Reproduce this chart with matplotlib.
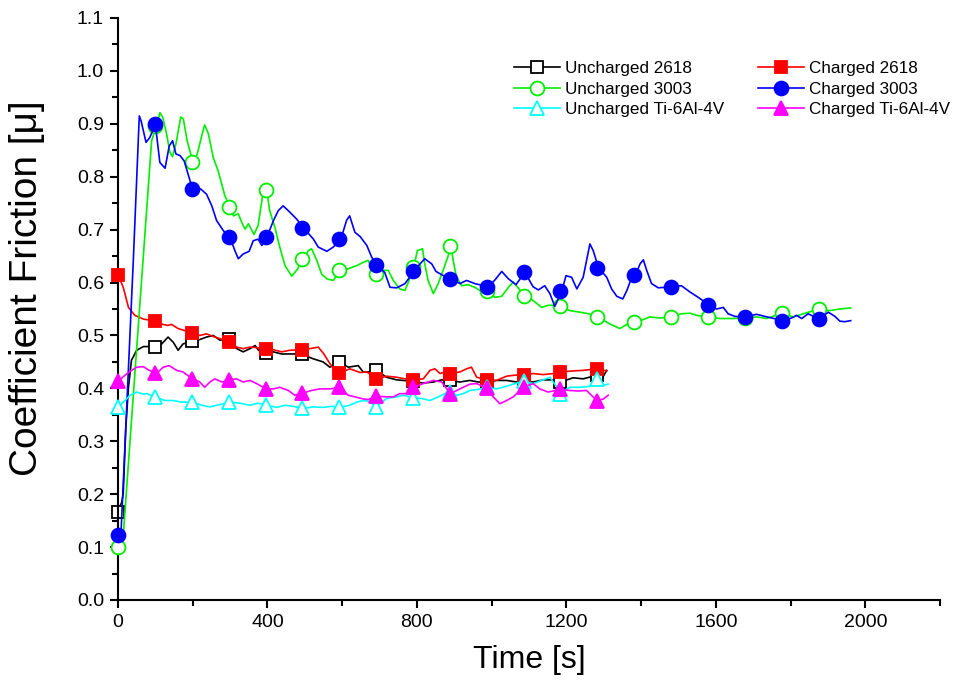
import matplotlib
matplotlib.use("Agg")
import matplotlib.pyplot as plt
from matplotlib.lines import Line2D
from matplotlib.ticker import MultipleLocator

plt.rcParams["font.family"] = ["Liberation Sans", "DejaVu Sans"]

# ---- traces (time [s], coefficient of friction) ----
un2618_t = [0, 10, 14, 21, 28, 36, 50, 68, 99, 117, 134, 148, 161, 174, 197, 214, 237, 255, 273, 295,
            318, 335, 353, 367, 376, 393, 416, 438, 460, 491, 522, 549, 567, 594, 616, 643, 656, 669,
            692, 719, 746, 764, 790, 817, 844, 866, 890, 915, 942, 964, 988, 1013, 1040, 1067, 1086,
            1111, 1138, 1165, 1185, 1218, 1245, 1283, 1299, 1308]
un2618_mu = [0.167, 0.185, 0.201, 0.327, 0.402, 0.453, 0.472, 0.479, 0.479, 0.484, 0.497, 0.487, 0.472,
             0.484, 0.489, 0.491, 0.497, 0.500, 0.491, 0.494, 0.475, 0.469, 0.475, 0.481, 0.472, 0.465,
             0.469, 0.465, 0.465, 0.465, 0.456, 0.450, 0.440, 0.450, 0.440, 0.443, 0.431, 0.431, 0.434,
             0.421, 0.416, 0.415, 0.413, 0.410, 0.412, 0.416, 0.415, 0.412, 0.415, 0.412, 0.412, 0.415,
             0.415, 0.412, 0.415, 0.412, 0.416, 0.416, 0.412, 0.420, 0.418, 0.425, 0.423, 0.434]

ch2618_t = [0, 14, 28, 45, 68, 99, 112, 134, 143, 161, 179, 197, 219, 237, 255, 273, 295, 318, 335, 353,
            371, 393, 416, 438, 460, 491, 513, 536, 550, 567, 580, 594, 620, 648, 666, 692, 719, 746,
            768, 790, 817, 835, 848, 862, 875, 890, 915, 933, 946, 960, 988, 1013, 1040, 1062, 1086,
            1111, 1138, 1165, 1185, 1218, 1245, 1283, 1308]
ch2618_mu = [0.615, 0.591, 0.553, 0.538, 0.531, 0.527, 0.522, 0.519, 0.521, 0.513, 0.509, 0.504, 0.500,
             0.503, 0.498, 0.494, 0.487, 0.478, 0.475, 0.478, 0.477, 0.475, 0.473, 0.469, 0.472, 0.473,
             0.475, 0.478, 0.466, 0.447, 0.434, 0.429, 0.437, 0.430, 0.431, 0.418, 0.423, 0.421, 0.418,
             0.416, 0.418, 0.434, 0.437, 0.428, 0.431, 0.428, 0.431, 0.437, 0.440, 0.421, 0.416, 0.415,
             0.423, 0.425, 0.425, 0.428, 0.426, 0.428, 0.431, 0.433, 0.434, 0.437, 0.433]

un3003_t = [0, 12, 90, 100, 108, 112, 120, 130, 139, 146, 155, 168, 175, 185, 201, 212, 224, 232, 242,
            255, 268, 286, 300, 309, 322, 331, 340, 349, 364, 375, 385, 391, 398, 406, 420, 433, 447,
            465, 480, 496, 509, 518, 532, 545, 559, 576, 596, 616, 639, 656, 669, 679, 694, 710, 723,
            737, 754, 768, 779, 792, 801, 815, 821, 830, 844, 857, 870, 884, 891, 897, 906, 920, 937,
            955, 968, 988, 1009, 1027, 1045, 1058, 1071, 1089, 1111, 1134, 1151, 1169, 1188, 1209,
            1236, 1259, 1286, 1316, 1343, 1362, 1383, 1406, 1423, 1450, 1482, 1508, 1531, 1549, 1580,
            1611, 1647, 1678, 1709, 1736, 1777, 1808, 1834, 1876, 1905, 1932, 1961]
un3003_mu = [0.100, 0.102, 0.868, 0.890, 0.909, 0.921, 0.912, 0.881, 0.846, 0.838, 0.862, 0.913, 0.909,
             0.868, 0.827, 0.843, 0.877, 0.898, 0.881, 0.836, 0.811, 0.764, 0.742, 0.726, 0.730, 0.714,
             0.701, 0.711, 0.691, 0.708, 0.755, 0.783, 0.774, 0.736, 0.704, 0.667, 0.632, 0.612, 0.625,
             0.645, 0.660, 0.664, 0.642, 0.616, 0.607, 0.604, 0.623, 0.626, 0.632, 0.638, 0.642, 0.629,
             0.616, 0.623, 0.623, 0.604, 0.588, 0.585, 0.604, 0.630, 0.660, 0.664, 0.635, 0.604, 0.579,
             0.598, 0.623, 0.651, 0.670, 0.642, 0.610, 0.594, 0.596, 0.591, 0.585, 0.584, 0.572, 0.574,
             0.591, 0.601, 0.590, 0.574, 0.566, 0.553, 0.557, 0.557, 0.555, 0.547, 0.544, 0.541, 0.534,
             0.522, 0.513, 0.521, 0.526, 0.530, 0.535, 0.533, 0.535, 0.541, 0.542, 0.538, 0.535, 0.532,
             0.532, 0.533, 0.535, 0.532, 0.542, 0.535, 0.541, 0.550, 0.547, 0.550, 0.552]

ch3003_t = [0, 8, 41, 57, 62, 75, 85, 100, 112, 126, 137, 146, 155, 166, 177, 193, 202, 221, 237, 251,
            264, 282, 300, 313, 322, 335, 351, 362, 375, 385, 398, 416, 429, 442, 460, 478, 496, 523,
            536, 559, 576, 596, 612, 620, 634, 648, 666, 679, 694, 714, 728, 746, 768, 792, 808, 821,
            840, 851, 871, 892, 915, 933, 955, 991, 1009, 1027, 1045, 1065, 1089, 1111, 1125, 1142,
            1156, 1169, 1188, 1199, 1214, 1228, 1245, 1263, 1272, 1286, 1308, 1321, 1335, 1351, 1362,
            1375, 1385, 1397, 1406, 1415, 1428, 1446, 1464, 1482, 1508, 1531, 1553, 1581, 1602, 1620,
            1633, 1651, 1680, 1709, 1731, 1750, 1779, 1803, 1816, 1830, 1847, 1876, 1901, 1919, 1932,
            1945, 1961]
ch3003_mu = [0.123, 0.126, 0.642, 0.915, 0.905, 0.865, 0.874, 0.899, 0.827, 0.816, 0.858, 0.868, 0.843,
             0.840, 0.830, 0.792, 0.775, 0.777, 0.767, 0.745, 0.717, 0.698, 0.685, 0.660, 0.645, 0.654,
             0.659, 0.679, 0.682, 0.670, 0.685, 0.717, 0.736, 0.745, 0.733, 0.720, 0.704, 0.682, 0.667,
             0.659, 0.667, 0.681, 0.718, 0.726, 0.695, 0.687, 0.670, 0.648, 0.632, 0.619, 0.591, 0.590,
             0.598, 0.621, 0.635, 0.645, 0.635, 0.621, 0.613, 0.607, 0.598, 0.604, 0.598, 0.592, 0.605,
             0.621, 0.607, 0.596, 0.619, 0.592, 0.586, 0.594, 0.579, 0.555, 0.584, 0.613, 0.610, 0.588,
             0.610, 0.673, 0.660, 0.628, 0.610, 0.588, 0.574, 0.569, 0.585, 0.610, 0.614, 0.635, 0.643,
             0.623, 0.598, 0.590, 0.591, 0.592, 0.594, 0.582, 0.572, 0.558, 0.550, 0.553, 0.541, 0.536,
             0.535, 0.540, 0.536, 0.533, 0.528, 0.533, 0.538, 0.532, 0.541, 0.531, 0.544, 0.536, 0.527,
             0.526, 0.528]

unti_t = [0, 19, 32, 50, 68, 77, 101, 126, 148, 170, 201, 224, 246, 264, 300, 326, 353, 375, 398, 425,
          447, 469, 496, 522, 549, 572, 594, 620, 639, 656, 669, 692, 719, 746, 764, 790, 812, 835, 857,
          888, 907, 924, 942, 964, 986, 1013, 1040, 1062, 1086, 1111, 1134, 1156, 1185, 1209, 1236,
          1263, 1283, 1299, 1312]
unti_mu = [0.365, 0.377, 0.387, 0.393, 0.389, 0.390, 0.383, 0.377, 0.377, 0.374, 0.374, 0.368, 0.365,
           0.368, 0.374, 0.372, 0.368, 0.372, 0.368, 0.364, 0.368, 0.366, 0.362, 0.365, 0.364, 0.366,
           0.364, 0.368, 0.374, 0.377, 0.376, 0.366, 0.381, 0.384, 0.387, 0.382, 0.381, 0.377, 0.384,
           0.394, 0.387, 0.390, 0.396, 0.398, 0.402, 0.399, 0.404, 0.409, 0.413, 0.409, 0.415, 0.421,
           0.392, 0.402, 0.402, 0.404, 0.416, 0.406, 0.408]

chti_t = [0, 19, 32, 50, 68, 81, 103, 121, 137, 157, 174, 199, 219, 232, 246, 259, 278, 297, 317, 335,
          353, 371, 396, 416, 433, 456, 473, 494, 518, 540, 567, 594, 616, 634, 656, 669, 696, 719, 737,
          754, 773, 790, 817, 844, 866, 890, 915, 942, 960, 986, 1004, 1022, 1040, 1058, 1085, 1111,
          1129, 1151, 1183, 1209, 1232, 1254, 1283, 1299, 1312]
chti_mu = [0.413, 0.425, 0.432, 0.440, 0.441, 0.435, 0.428, 0.440, 0.443, 0.434, 0.431, 0.418, 0.412,
           0.402, 0.412, 0.418, 0.412, 0.416, 0.418, 0.412, 0.415, 0.409, 0.399, 0.399, 0.402, 0.396,
           0.387, 0.391, 0.396, 0.399, 0.399, 0.402, 0.387, 0.384, 0.380, 0.379, 0.385, 0.384, 0.384,
           0.390, 0.390, 0.402, 0.409, 0.415, 0.412, 0.390, 0.399, 0.408, 0.409, 0.401, 0.384, 0.371,
           0.377, 0.384, 0.402, 0.409, 0.399, 0.393, 0.398, 0.396, 0.395, 0.396, 0.376, 0.380, 0.387]

# ---- symbols (every ~99 s) ----
mark_t = [0, 99, 197, 296, 395, 493, 592, 691, 790, 888, 987, 1086, 1184, 1283,
          1382, 1480, 1579, 1678, 1776, 1875]
un2618_mark = [0.167, 0.479, 0.490, 0.494, 0.466, 0.465, 0.450, 0.434, 0.413, 0.415, 0.412, 0.415, 0.412, 0.425]
ch2618_mark = [0.615, 0.527, 0.504, 0.487, 0.475, 0.473, 0.429, 0.418, 0.416, 0.428, 0.416, 0.425, 0.431, 0.437]
un3003_mark = [0.100, 0.895, 0.828, 0.743, 0.774, 0.645, 0.623, 0.616, 0.630, 0.670, 0.584, 0.574, 0.555,
               0.534, 0.526, 0.535, 0.535, 0.533, 0.542, 0.550]
ch3003_mark = [0.123, 0.900, 0.776, 0.686, 0.686, 0.704, 0.682, 0.633, 0.621, 0.607, 0.592, 0.619, 0.584,
               0.628, 0.614, 0.592, 0.558, 0.535, 0.528, 0.531]
unti_mark = [0.365, 0.383, 0.374, 0.374, 0.368, 0.362, 0.364, 0.365, 0.382, 0.394, 0.402, 0.413, 0.390, 0.418]
chti_mark = [0.413, 0.429, 0.418, 0.416, 0.399, 0.391, 0.402, 0.385, 0.402, 0.390, 0.401, 0.402, 0.398, 0.376]

# label, color, marker, filled, ms, trace t, trace mu, marks
SERIES = [
    ("Uncharged 2618", "black", "s", False, 9, un2618_t, un2618_mu, un2618_mark),
    ("Charged 2618", "#ff0000", "s", True, 9, ch2618_t, ch2618_mu, ch2618_mark),
    ("Uncharged 3003", "#00ee00", "o", False, 10, un3003_t, un3003_mu, un3003_mark),
    ("Charged 3003", "#0000ff", "o", True, 10, ch3003_t, ch3003_mu, ch3003_mark),
    ("Uncharged Ti-6Al-4V", "#00ffff", "^", False, 10, unti_t, unti_mu, unti_mark),
    ("Charged Ti-6Al-4V", "#ff00ff", "^", True, 10, chti_t, chti_mu, chti_mark),
]

fig = plt.figure(figsize=(9.63, 6.83), dpi=100)
ax = fig.add_axes([118 / 963, 83 / 683, 822 / 963, 582 / 683])

handles = {}
for i, (lab, col, mk, filled, ms, tt, mu, marks) in enumerate(SERIES):
    face = col if filled else "white"
    z = 2 + i
    ax.plot(tt, mu, color=col, lw=1.2, zorder=z, clip_on=False)
    ax.plot(mark_t[:len(marks)], marks, linestyle="none", marker=mk, ms=ms,
            markerfacecolor=face, markeredgecolor=col, markeredgewidth=1.3,
            zorder=z, clip_on=False)
    handles[lab] = Line2D([0], [0], color=col, lw=1.2, marker=mk, ms=ms,
                          markerfacecolor=face, markeredgecolor=col, markeredgewidth=1.3)

ax.set_xlim(0, 2200)
ax.set_ylim(0, 1.1)
ax.xaxis.set_major_locator(MultipleLocator(400))
ax.xaxis.set_minor_locator(MultipleLocator(200))
ax.yaxis.set_major_locator(MultipleLocator(0.1))
ax.yaxis.set_minor_locator(MultipleLocator(0.05))
ax.yaxis.set_major_formatter(matplotlib.ticker.FormatStrFormatter("%.1f"))

for s in ("top", "right"):
    ax.spines[s].set_visible(False)
for s in ("left", "bottom"):
    ax.spines[s].set_linewidth(1.5)
ax.tick_params(which="major", direction="out", length=6, width=1.5, labelsize=14, pad=4)
ax.tick_params(which="minor", direction="out", length=4, width=1.5)

ax.set_xlabel("Time [s]", fontsize=23, labelpad=10)
ax.set_ylabel("Coefficient Friction [\u03bc]", fontsize=28)
ax.yaxis.set_label_coords(-0.089, 0.535)

order = ["Uncharged 2618", "Uncharged 3003", "Uncharged Ti-6Al-4V",
         "Charged 2618", "Charged 3003", "Charged Ti-6Al-4V"]
ax.legend([handles[k] for k in order], order, ncol=2, frameon=False, fontsize=12.3,
          loc="upper left", bbox_to_anchor=(0.471, 0.94), borderpad=0,
          handlelength=2.7, handletextpad=0.3, columnspacing=2.0, labelspacing=0.3)

fig.savefig("out.png", dpi=100)
